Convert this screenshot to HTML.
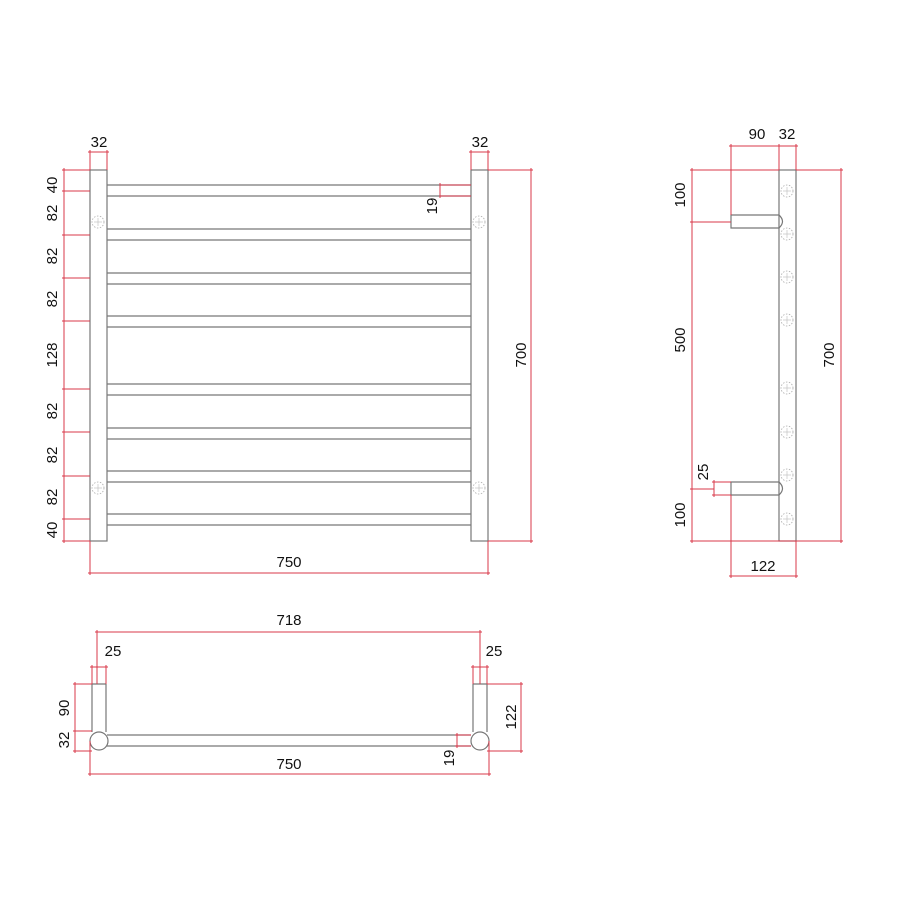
<!DOCTYPE html>
<html><head><style>body{margin:0;background:#fff}svg{display:block}text{font-family:"Liberation Sans",sans-serif;font-size:15px;fill:#111;text-anchor:middle}</style></head><body>
<svg width="900" height="900" viewBox="0 0 900 900">
<defs>
<g id="dc"><circle r="6" fill="none" stroke="#aaa" stroke-width="0.8" stroke-dasharray="1.5 1.5"/><line x1="-4" x2="4" stroke="#bbb" stroke-width="0.6"/><line y1="-4" y2="4" stroke="#bbb" stroke-width="0.6"/></g>
</defs>
<!-- FRONT VIEW -->
<g fill="none" stroke="#777" stroke-width="1.2">
<rect x="90" y="170" width="17" height="371"/>
<rect x="471" y="170" width="17" height="371"/>
<path d="M107 185H471M107 196H471M107 229H471M107 240H471M107 273H471M107 284H471M107 316H471M107 327H471M107 384H471M107 395H471M107 428H471M107 439H471M107 471H471M107 482H471M107 514H471M107 525H471"/>
</g>
<use href="#dc" x="98" y="222"/><use href="#dc" x="479" y="222"/><use href="#dc" x="98" y="488"/><use href="#dc" x="479" y="488"/>
<g fill="none" stroke="#d9384a" stroke-width="1">
<path d="M64 168V543M62 170H90M62 191H90M62 235H90M62 278H90M62 321H90M62 389H90M62 432H90M62 476H90M62 519H90M62 541H90"/>
<path d="M88 152H109M90 150V170M107 150V170M469 152H490M471 150V170M488 150V170"/>
<path d="M531 168V543M488 170H533M488 541H533"/>
<path d="M440 183V198M440 185H471M440 196H471"/>
<path d="M88 573H490M90 541V575M488 541V575"/>
</g>
<text x="99" y="147">32</text><text x="480" y="147">32</text>
<text x="289" y="567">750</text>
<g>
<text transform="translate(57,185) rotate(-90)">40</text>
<text transform="translate(57,213) rotate(-90)">82</text>
<text transform="translate(57,256) rotate(-90)">82</text>
<text transform="translate(57,299) rotate(-90)">82</text>
<text transform="translate(57,355) rotate(-90)">128</text>
<text transform="translate(57,411) rotate(-90)">82</text>
<text transform="translate(57,455) rotate(-90)">82</text>
<text transform="translate(57,497) rotate(-90)">82</text>
<text transform="translate(57,530) rotate(-90)">40</text>
<text transform="translate(526,355) rotate(-90)">700</text>
<text transform="translate(437,206) rotate(-90)">19</text>
</g>
<!-- SIDE VIEW -->
<g fill="none" stroke="#777" stroke-width="1.2">
<rect x="779" y="170" width="17" height="371"/>
<path d="M779 215H731V228H779Q786 221.5 779 215"/>
<path d="M779 482H731V495H779Q786 488.5 779 482"/>
</g>
<use href="#dc" x="787" y="191"/><use href="#dc" x="787" y="234"/><use href="#dc" x="787" y="277"/><use href="#dc" x="787" y="320"/><use href="#dc" x="787" y="388"/><use href="#dc" x="787" y="432"/><use href="#dc" x="787" y="475"/><use href="#dc" x="787" y="519"/>
<g fill="none" stroke="#d9384a" stroke-width="1">
<path d="M729 146H798M731 144V215M779 144V170M796 144V170"/>
<path d="M692 168V543M690 170H779M690 222H731M690 489H714M690 541H843"/>
<path d="M841 168V543M796 170H843"/>
<path d="M714 480V497M712 482H731M712 495H731"/>
<path d="M729 576H798M731 495V578M796 541V578"/>
</g>
<text x="757" y="139">90</text><text x="787" y="139">32</text><text x="763" y="571">122</text>
<text transform="translate(685,195) rotate(-90)">100</text>
<text transform="translate(685,340) rotate(-90)">500</text>
<text transform="translate(685,515) rotate(-90)">100</text>
<text transform="translate(834,355) rotate(-90)">700</text>
<text transform="translate(708,472) rotate(-90)">25</text>
<!-- PLAN VIEW -->
<g fill="none" stroke="#777" stroke-width="1.2">
<path d="M92 684V732M106 684V732M92 684H106"/>
<path d="M473 684V732M487 684V732M473 684H487"/>
<path d="M107 735H471M107 746H471"/>
<circle cx="99" cy="741" r="9" fill="#fff"/>
<circle cx="480" cy="741" r="9" fill="#fff"/>
</g>
<g fill="none" stroke="#d9384a" stroke-width="1">
<path d="M95 632H482M97 630V684M480 630V684"/>
<path d="M90 667H108M92 665V684M106 665V684M471 667H489M473 665V684M487 665V684"/>
<path d="M75 682V753M73 684H92M73 731H92M73 751H92"/>
<path d="M88 774H491M90 741V776M489 741V776"/>
<path d="M521 682V753M487 684H523M487 751H523"/>
<path d="M457 733V748M455 735H471M455 746H471"/>
</g>
<text x="289" y="625">718</text><text x="113" y="656">25</text><text x="494" y="656">25</text><text x="289" y="769">750</text>
<text transform="translate(69,708) rotate(-90)">90</text>
<text transform="translate(69,740) rotate(-90)">32</text>
<text transform="translate(516,717) rotate(-90)">122</text>
<text transform="translate(454,758) rotate(-90)">19</text>
</svg>
</body></html>
